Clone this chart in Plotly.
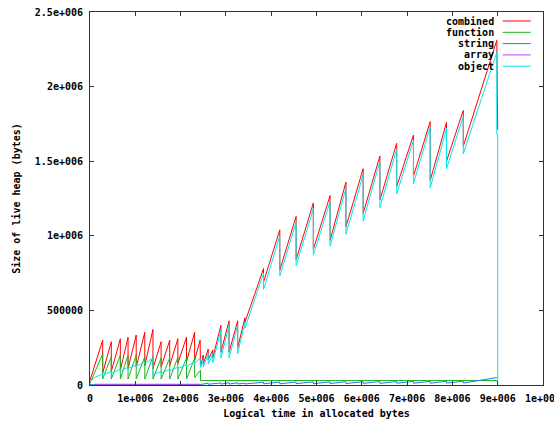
import plotly.graph_objects as go

# Live heap size (bytes) sampled against logical time (allocated bytes)
combined_x = [0, 2.8e5, 2.8e5, 4.7e5, 4.7e5, 6.7e5, 6.7e5, 8.4e5, 8.4e5, 1.02e6, 1.02e6,
              1.21e6, 1.21e6, 1.39e6, 1.39e6, 1.57e6, 1.57e6, 1.76e6, 1.76e6, 1.94e6, 1.94e6,
              2.13e6, 2.13e6, 2.31e6, 2.31e6, 2.43e6, 2.44e6, 2.50e6, 2.50e6, 2.61e6, 2.61e6,
              2.71e6, 2.71e6, 2.89e6, 2.89e6, 3.07e6, 3.07e6, 3.26e6, 3.26e6, 3.42e6, 3.42e6,
              3.83e6, 3.83e6, 4.19e6, 4.19e6, 4.55e6, 4.55e6, 4.93e6, 4.93e6, 5.30e6, 5.30e6,
              5.65e6, 5.65e6, 6.03e6, 6.03e6, 6.40e6, 6.40e6, 6.77e6, 6.77e6, 7.14e6, 7.14e6,
              7.51e6, 7.51e6, 7.87e6, 7.87e6, 8.24e6, 8.24e6, 8.98e6, 9.0e6]
combined_y = [3e4, 3.0e5, 8e4, 2.9e5, 9e4, 3.1e5, 1.0e5, 3.2e5, 1.1e5, 3.35e5, 1.2e5,
              3.53e5, 1.3e5, 3.73e5, 1.1e5, 2.9e5, 1.2e5, 3.0e5, 1.3e5, 3.1e5, 1.45e5,
              3.2e5, 1.55e5, 3.53e5, 1.65e5, 3.0e5, 1.2e5, 2.0e5, 1.4e5, 2.4e5, 1.7e5,
              2.35e5, 1.8e5, 4.0e5, 2.2e5, 4.3e5, 2.2e5, 4.3e5, 2.5e5, 4.5e5, 4.2e5,
              7.8e5, 6.9e5, 1.04e6, 7.7e5, 1.13e6, 8.4e5, 1.22e6, 9.1e5, 1.27e6, 9.7e5,
              1.36e6, 1.06e6, 1.45e6, 1.15e6, 1.535e6, 1.24e6, 1.62e6, 1.33e6, 1.675e6, 1.40e6,
              1.765e6, 1.37e6, 1.76e6, 1.50e6, 1.84e6, 1.60e6, 2.31e6, 1.71e6]

function_x = [0, 2.8e5, 2.8e5, 4.7e5, 4.7e5, 6.7e5, 6.7e5, 8.4e5, 8.4e5, 1.02e6, 1.02e6,
              1.21e6, 1.21e6, 1.39e6, 1.39e6, 1.57e6, 1.57e6, 1.76e6, 1.76e6, 1.94e6, 1.94e6,
              2.13e6, 2.13e6, 2.31e6, 2.31e6, 2.44e6, 2.44e6, 9.0e6]
function_y = [1e4, 2.1e5, 4e4, 1.9e5, 4e4, 2.0e5, 4e4, 2.0e5, 4e4, 2.0e5, 4e4,
              1.9e5, 4e4, 1.9e5, 4e4, 1.8e5, 4e4, 1.8e5, 4e4, 1.85e5, 4e4,
              1.8e5, 4e4, 1.8e5, 5e4, 1.0e5, 3e4, 3e4]

string_x = [0, 2.44e6, 2.61e6, 2.61e6, 2.89e6, 2.89e6, 3.07e6, 3.07e6, 3.26e6, 3.26e6,
            3.42e6, 3.42e6, 3.83e6, 3.83e6, 4.19e6, 4.19e6, 4.55e6, 4.55e6, 4.93e6, 4.93e6,
            5.30e6, 5.30e6, 5.65e6, 5.65e6, 6.03e6, 6.03e6, 6.40e6, 6.40e6, 6.77e6, 6.77e6,
            7.14e6, 7.14e6, 7.51e6, 7.51e6, 7.87e6, 7.87e6, 8.24e6, 8.24e6, 8.98e6, 9.0e6]
string_y = [2e3, 3e3, 1.2e4, 5e3, 1.4e4, 6e3, 1.5e4, 6e3, 1.5e4, 7e3,
            1.2e4, 7e3, 1.8e4, 8e3, 2.0e4, 8e3, 2.0e4, 9e3, 2.1e4, 9e3,
            2.1e4, 1.0e4, 2.2e4, 1.0e4, 2.2e4, 1.1e4, 2.3e4, 1.1e4, 2.3e4, 1.2e4,
            2.4e4, 1.2e4, 2.4e4, 1.2e4, 2.5e4, 1.3e4, 2.5e4, 1.3e4, 5.0e4, 5.0e4]

array_x = [1.1e5, 2.43e6]
array_y = [5e3, 5e3]

object_x = [0, 1.0e5, 2.8e5, 2.8e5, 4.7e5, 4.7e5, 6.7e5, 6.7e5, 8.4e5, 8.4e5, 1.02e6, 1.02e6,
            1.21e6, 1.21e6, 1.39e6, 1.39e6, 1.57e6, 1.57e6, 1.76e6, 1.76e6, 1.94e6, 1.94e6,
            2.13e6, 2.13e6, 2.31e6, 2.31e6, 2.43e6, 2.44e6, 2.50e6, 2.50e6, 2.61e6, 2.61e6,
            2.71e6, 2.71e6, 2.89e6, 2.89e6, 3.07e6, 3.07e6, 3.26e6, 3.26e6, 3.42e6, 3.42e6,
            3.83e6, 3.83e6, 4.19e6, 4.19e6, 4.55e6, 4.55e6, 4.93e6, 4.93e6, 5.30e6, 5.30e6,
            5.65e6, 5.65e6, 6.03e6, 6.03e6, 6.40e6, 6.40e6, 6.77e6, 6.77e6, 7.14e6, 7.14e6,
            7.51e6, 7.51e6, 7.87e6, 7.87e6, 8.24e6, 8.24e6, 8.98e6, 8.98e6, 9.0e6, 9.0e6]
object_y = [2e4, 5e4, 7.5e4, 6.5e4, 9e4, 8e4, 1.05e5, 9.5e4, 1.2e5, 1.1e5, 1.35e5, 1.25e5,
            1.55e5, 1.45e5, 1.8e5, 7e4, 9e4, 8e4, 1.05e5, 9.5e4, 1.2e5, 1.1e5,
            1.35e5, 1.25e5, 1.55e5, 1.45e5, 1.8e5, 1.2e5, 1.7e5, 1.2e5, 2.1e5, 1.4e5,
            2.1e5, 1.5e5, 3.7e5, 1.8e5, 4.0e5, 1.8e5, 4.0e5, 2.1e5, 4.2e5, 3.8e5,
            7.5e5, 6.4e5, 1.0e6, 7.3e5, 1.09e6, 8.0e5, 1.18e6, 8.7e5, 1.23e6, 9.3e5,
            1.32e6, 1.01e6, 1.41e6, 1.10e6, 1.50e6, 1.19e6, 1.58e6, 1.28e6, 1.64e6, 1.35e6,
            1.73e6, 1.32e6, 1.72e6, 1.45e6, 1.80e6, 1.55e6, 2.23e6, 1.68e6, 1.68e6, 0]

x_tick_vals = [0, 1e6, 2e6, 3e6, 4e6, 5e6, 6e6, 7e6, 8e6, 9e6, 1e7]
x_tick_text = ["0", "1e+006", "2e+006", "3e+006", "4e+006", "5e+006",
               "6e+006", "7e+006", "8e+006", "9e+006", "1e+007"]
y_tick_vals = [0, 5e5, 1e6, 1.5e6, 2e6, 2.5e6]
y_tick_text = ["0", "500000", "1e+006", "1.5e+006", "2e+006", "2.5e+006"]

series = [
    ("combined", combined_x, combined_y, "#ff0000"),
    ("function", function_x, function_y, "#1fb51f"),
    ("string", string_x, string_y, "#1c7cf0"),
    ("array", array_x, array_y, "#c040f0"),
    ("object", object_x, object_y, "#00e8f0"),
]

FONT = dict(family="DejaVu Sans Mono", size=10, color="black", weight="bold")

fig = go.Figure()
for name, xs, ys, color in series:
    fig.add_trace(go.Scatter(x=xs, y=ys, mode="lines", name=name,
                             line=dict(color=color, width=1), showlegend=False))

# Key in the top-right corner: right-aligned label followed by a line sample
annotations = []
shapes = []
for i, (name, _, _, color) in enumerate(series):
    yp = 1 - (9 + 11.3 * i) / 373
    annotations.append(dict(x=0.896, y=yp, xref="paper", yref="paper", text=name,
                            showarrow=False, xanchor="right", yanchor="middle", font=FONT))
    shapes.append(dict(type="line", xref="paper", yref="paper", x0=0.911, x1=0.973,
                       y0=yp, y1=yp, line=dict(color=color, width=1)))

axis_common = dict(showline=True, linecolor="#333333", linewidth=1, mirror="allticks",
                   ticks="inside", ticklen=4, tickcolor="#333333", showgrid=False,
                   zeroline=False, tickfont=FONT, ticklabelstandoff=4, automargin=False,
                   ticklabeloverflow="allow")

fig.update_layout(
    width=554, height=426,
    margin=dict(l=90, r=11, t=12, b=41),
    paper_bgcolor="white", plot_bgcolor="white",
    font=FONT,
    xaxis=dict(range=[0, 1e7], tickvals=x_tick_vals, ticktext=x_tick_text,
               title=dict(text="Logical time in allocated bytes", font=FONT, standoff=6),
               **axis_common),
    yaxis=dict(range=[0, 2.5e6], tickvals=y_tick_vals, ticktext=y_tick_text,
               title=dict(text="Size of live heap (bytes)", font=FONT, standoff=12),
               **axis_common),
    annotations=annotations,
    shapes=shapes,
)

fig.write_html("out.html")
